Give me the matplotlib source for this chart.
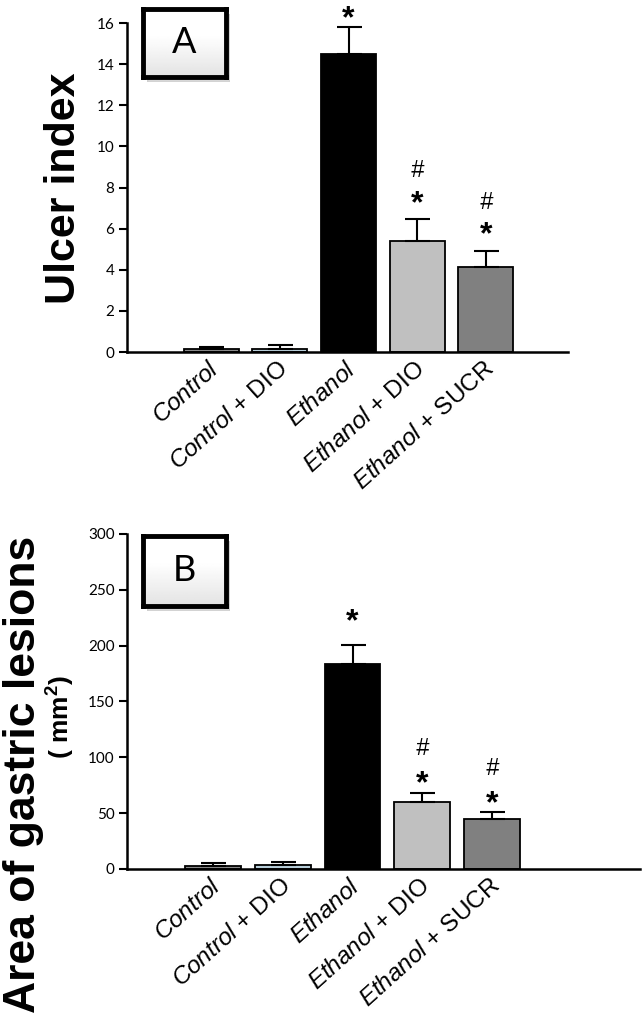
import matplotlib
matplotlib.use("Agg")
from matplotlib import pyplot as plt
from matplotlib.transforms import ScaledTranslation
import numpy as np

plt.rcParams['font.family'] = ['Liberation Sans', 'DejaVu Sans']
plt.rcParams['mathtext.fontset'] = 'custom'
plt.rcParams['mathtext.it'] = 'Liberation Sans:italic'
plt.rcParams['mathtext.rm'] = 'Liberation Sans'

# data
groups = ['Control', 'Control + DIO', 'Ethanol', 'Ethanol + DIO', 'Ethanol + SUCR']
group_labels = [r'$\mathit{Control}$', r'$\mathit{Control}$ + DIO', r'$\mathit{Ethanol}$',
                r'$\mathit{Ethanol}$ + DIO', r'$\mathit{Ethanol}$ + SUCR']
bar_colors = ['#8a8a8a', '#b8ced9', '#000000', '#c0c0c0', '#808080']

ulcer_mean = [0.13, 0.16, 14.5, 5.4, 4.15]
ulcer_sem = [0.11, 0.18, 1.3, 1.08, 0.78]

area_mean = [3.0, 3.3, 183.5, 60.3, 44.5]
area_sem = [2.6, 3.2, 16.8, 7.5, 6.5]

# significance marks: (star, hash)
marks = [(False, False), (False, False), (True, False), (True, True), (True, True)]

fig = plt.figure(figsize=(6.43, 10.21), dpi=100)
ax1 = fig.add_axes([0.1975, 0.6552, 0.6858, 0.3222])
ax2 = fig.add_axes([0.1975, 0.1489, 0.7978, 0.3281])


def draw_panel(ax, means, sems, ymax, step, xlim, star_off, hash_off):
    x = np.arange(len(groups))
    ax.bar(x, means, width=0.8, color=bar_colors, edgecolor='black', linewidth=1.3, zorder=2)
    ax.errorbar(x, means, yerr=[np.zeros(len(sems)), sems], fmt='none', ecolor='black',
                elinewidth=1.5, capsize=9, capthick=1.5, zorder=3)
    ax.set_xlim(*xlim)
    ax.set_ylim(0, ymax)
    ax.set_yticks(np.arange(0, ymax + 1, step))
    ax.tick_params(axis='y', direction='out', length=6, width=1.5, labelsize=11, pad=3)
    for lab in ax.get_yticklabels():
        lab.set_family('Lato')
    for s in ['top', 'right']:
        ax.spines[s].set_visible(False)
    ax.spines['left'].set_linewidth(1.8)
    ax.spines['bottom'].set_linewidth(1.8)
    ax.set_xticks(x)
    ax.set_xticklabels(group_labels, rotation=42, ha='right', va='center',
                       rotation_mode='anchor', fontsize=17.5)
    ax.tick_params(axis='x', length=0, pad=10)
    for lab in ax.get_xticklabels():
        lab.set_transform(lab.get_transform() + ScaledTranslation(0.05, 0, fig.dpi_scale_trans))
    ax.set_xticks([2], minor=True)
    ax.tick_params(axis='x', which='minor', direction='out', length=6, width=1.5)
    for i, (st, hs) in enumerate(marks):
        top = means[i] + sems[i]
        if st:
            ax.annotate('*', (i, top), xytext=(0, star_off[i]), textcoords='offset pixels',
                        ha='center', va='center', fontsize=23, fontweight='bold')
        if hs:
            ax.annotate('#', (i, top), xytext=(0, hash_off[i]), textcoords='offset pixels',
                        ha='center', va='center', fontsize=17, style='italic')


draw_panel(ax1, ulcer_mean, ulcer_sem, 16, 2, (-1.23, 5.2),
           [0, 0, 8, 15, 15], [0, 0, 48, 48, 48])
draw_panel(ax2, area_mean, area_sem, 300, 50, (-1.24, 6.13),
           [0, 0, 23, 9, 8], [0, 0, 45, 45, 44])

fig.text(0.099, 0.816, 'Ulcer index', rotation=90, ha='center', va='center',
         fontsize=31, fontweight='bold')
fig.text(0.036, 0.242, 'Area of gastric lesions', rotation=90, ha='center', va='center',
         fontsize=32, fontweight='bold')
fig.text(0.094, 0.298, '( mm$^\\mathregular{2}$)', rotation=90, ha='center', va='center',
         fontsize=19, fontweight='bold')


def panel_box(rect, letter):
    l, b, w, h = rect
    sh = fig.add_axes([l + 0.006, b - 0.005, w, h])
    sh.set_axis_off()
    sh.add_patch(plt.Rectangle((0, 0), 1, 1, transform=sh.transAxes, color='#bdbdbd', alpha=0.6))
    bx = fig.add_axes(rect)
    grad = np.linspace(1.0, 0.82, 64)
    grad = np.where(grad > 0.93, 1.0, grad + 0.07)
    bx.imshow(grad[:, None] * np.ones((1, 8)), cmap='gray', vmin=0, vmax=1,
              aspect='auto', extent=(0, 1, 0, 1))
    bx.set_xticks([])
    bx.set_yticks([])
    for s in bx.spines.values():
        s.set_linewidth(3.5)
    bx.text(0.5, 0.5, letter, ha='center', va='center', fontsize=26, family='Lato',
            transform=bx.transAxes)


panel_box([0.2224, 0.9246, 0.129, 0.0666], 'A')
panel_box([0.2224, 0.4065, 0.129, 0.0686], 'B')

fig.savefig('out.png', dpi=100)
